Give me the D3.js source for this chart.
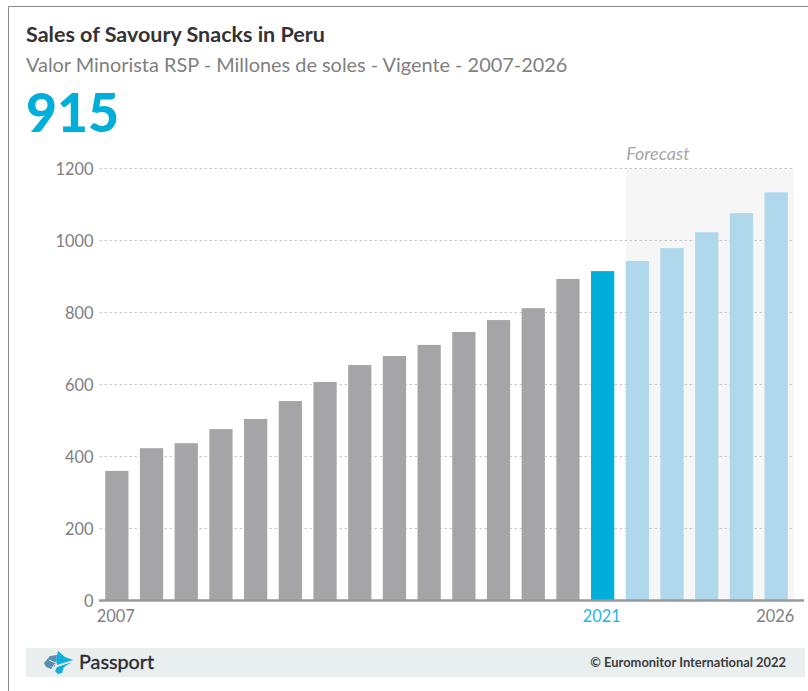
<!DOCTYPE html>
<html>
<head>
<meta charset="utf-8">
<script src="https://cdn.jsdelivr.net/npm/d3@7/dist/d3.min.js"></script>
<style>
  html, body { margin: 0; padding: 0; background: #fff; }
  svg { display: block; }
  text { font-family: Lato, "Open Sans", sans-serif; }
</style>
</head>
<body>
<svg id="chart" width="808" height="691"></svg>
<script>
// Retail value of savoury snacks, million soles
const years = [2007, 2008, 2009, 2010, 2011, 2012, 2013, 2014, 2015, 2016,
               2017, 2018, 2019, 2020, 2021, 2022, 2023, 2024, 2025, 2026];
const sales = [360, 423, 437, 476, 504, 554, 607, 654, 679, 710,
               746, 779, 812, 893, 915, 943, 979, 1023, 1076, 1134];
const yTicks = [0, 200, 400, 600, 800, 1000, 1200];
const xLabels = [2007, 2021, 2026];
const currentYear = 2021;
const titleText = "Sales of Savoury Snacks in Peru";
const subtitleText = "Valor Minorista RSP - Millones de soles - Vigente - 2007-2026";
const headlineText = "915";
const forecastText = "Forecast";
const brandText = "Passport";
const copyrightText = "© Euromonitor International 2022";

const svg = d3.select("#chart");

const x = d3.scaleBand().domain(years).range([99.5, 793.5]).paddingInner(0.33).paddingOuter(0.165);
const y = d3.scaleLinear().domain([0, 1200]).range([600.5, 168.5]);

// Outer frame: top and left edges only
svg.append("path").attr("d", "M8.5 691V6.5H808").attr("fill", "none").attr("stroke", "#8c8c8c");

// Header
svg.append("text").attr("x", 26).attr("y", 42).attr("font-size", 21.5).attr("font-weight", 700)
  .attr("fill", "#333").text(titleText);
svg.append("text").attr("x", 26).attr("y", 71.5).attr("font-size", 19.9)
  .attr("fill", "#808080").text(subtitleText);
svg.append("text").attr("x", 26).attr("y", 132).attr("font-size", 53.5).attr("font-weight", 900)
  .attr("fill", "#00aeda").text(headlineText);

// Forecast shading runs from the first forecast bar to the end of the plot
const firstForecast = x(currentYear + 1);
svg.append("rect").attr("x", firstForecast).attr("y", y(1200))
  .attr("width", 793.5 - firstForecast).attr("height", y(0) - y(1200)).attr("fill", "#f6f6f6");
svg.append("text").attr("x", firstForecast + 0.5).attr("y", 160).attr("font-size", 18)
  .attr("font-style", "italic").attr("fill", "#a6a6a6").text(forecastText);

// Value axis with dotted gridlines
const yAxis = svg.append("g").attr("transform", "translate(99.5,0)")
  .call(d3.axisLeft(y).tickValues(yTicks).tickFormat(d3.format("d")).tickSize(0).tickPadding(6));
yAxis.select(".domain").remove();
yAxis.selectAll("text").attr("font-size", 16.4).attr("fill", "#808080").attr("dy", "0.35em")
  .style("font-family", "Lato, sans-serif");
svg.append("g").selectAll("line").data(yTicks.filter(d => d > 0)).join("line")
  .attr("x1", 99.5).attr("x2", 793.5).attr("y1", d => y(d)).attr("y2", d => y(d))
  .attr("stroke", "#c8c8c8").attr("stroke-width", 1).attr("stroke-dasharray", "2.5 2.5");

// Bars: grey history, bright current year, pale forecast
svg.append("g").selectAll("rect").data(years).join("rect")
  .attr("x", d => x(d))
  .attr("width", x.bandwidth())
  .attr("y", (d, i) => y(sales[i]))
  .attr("height", (d, i) => y(0) - y(sales[i]))
  .attr("fill", d => d < currentYear ? "#a5a5a7" : d === currentYear ? "#00aeda" : "#b0d8ec");

// Baseline and year labels
const xAxis = svg.append("g").attr("transform", `translate(-1,${y(0)})`)
  .call(d3.axisBottom(x).tickValues(xLabels).tickFormat(d3.format("d")).tickSize(0).tickPadding(10));
xAxis.select(".domain").remove();
xAxis.selectAll("text").attr("font-size", 16.4)
  .attr("fill", d => d === currentYear ? "#29b6df" : "#808080")
  .style("font-family", "Lato, sans-serif");
svg.append("line").attr("x1", 99).attr("x2", 804).attr("y1", y(0)).attr("y2", y(0))
  .attr("stroke", "#999").attr("stroke-width", 2.5);

// Footer band with brand mark
svg.append("rect").attr("x", 26).attr("y", 648).attr("width", 779).attr("height", 29).attr("fill", "#e9eeef");
const mark = svg.append("g");
mark.append("path").attr("d", "M44 663L50 656L57 655L55 666L51 669L46 667Z").attr("fill", "#5b8fb0");
mark.append("path").attr("d", "M58 651L65 657L73 660L57 665L56 660Z").attr("fill", "#12aedd");
mark.append("path").attr("d", "M57 667L72 662L64 667L62 673L58 674L55 671Z").attr("fill", "#12aedd");
mark.append("path").attr("d", "M49 660L56 663M52 668L55 664").attr("stroke", "#e9eeef").attr("fill", "none");
svg.append("text").attr("x", 79).attr("y", 669).attr("font-size", 19.8).attr("font-weight", 400)
  .attr("fill", "#2b2b2b").attr("stroke", "#2b2b2b").attr("stroke-width", 0.35).text(brandText);
svg.append("text").attr("x", 786).attr("y", 667).attr("text-anchor", "end").attr("font-size", 12.9)
  .attr("font-weight", 700).attr("fill", "#3c3c3c").text(copyrightText);
</script>
</body>
</html>
